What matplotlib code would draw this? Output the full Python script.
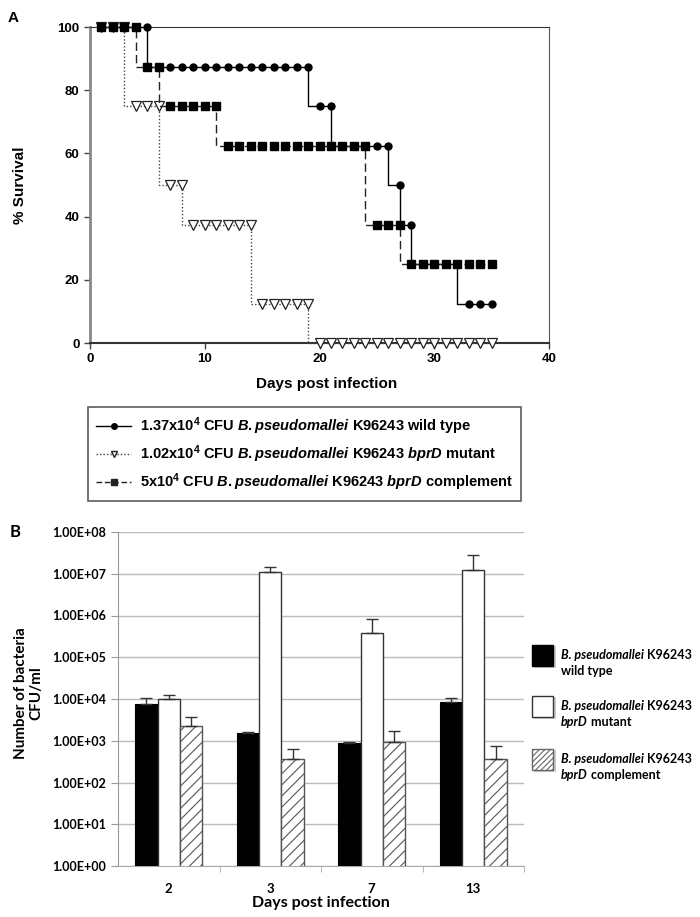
import matplotlib
matplotlib.use('Agg')
from matplotlib import pyplot as plt
from matplotlib.patches import Rectangle
from matplotlib.lines import Line2D
import numpy as np

plt.rcParams['font.family'] = ['Liberation Sans', 'DejaVu Sans']
plt.rcParams['mathtext.fontset'] = 'custom'
plt.rcParams['mathtext.rm'] = 'Liberation Sans:bold'
plt.rcParams['mathtext.it'] = 'Liberation Sans:italic:bold'
plt.rcParams['mathtext.bf'] = 'Liberation Sans:bold'
plt.rcParams['mathtext.default'] = 'regular'
plt.rcParams['hatch.linewidth'] = 0.8

# panel A: survival per day
days = np.arange(1, 36)
wild_surv = [100]*5 + [87.5]*14 + [75]*2 + [62.5]*5 + [50] + [37.5] + [25]*4 + [12.5]*3
mutant_surv = [100]*3 + [75]*3 + [50]*2 + [37.5]*6 + [12.5]*5 + [0]*16
comp_surv = [100]*4 + [87.5]*2 + [75]*5 + [62.5]*13 + [37.5]*3 + [25]*8

# panel B: CFU/ml
b_days = ['2', '3', '7', '13']
wild_cfu = [7.5e3, 1.5e3, 9.0e2, 8.3e3]
wild_err = [3.0e3, 1.0e2, 5.0e1, 2.0e3]
mutant_cfu = [1.0e4, 1.08e7, 3.8e5, 1.22e7]
mutant_err = [2.5e3, 4.0e6, 4.3e5, 1.55e7]
comp_cfu = [2.3e3, 3.7e2, 9.5e2, 3.7e2]
comp_err = [1.5e3, 2.8e2, 7.5e2, 3.8e2]

fig = plt.figure(figsize=(7, 9.17), dpi=100)

# ---------------- panel A
ax = fig.add_axes([90/700, 1-343/917, 459/700, 316/917])
ax.plot(days, wild_surv, drawstyle='steps-pre', color='black', lw=1.0,
        marker='o', ms=5, mfc='black', mec='black', clip_on=False, zorder=4)
ax.plot(days, mutant_surv, drawstyle='steps-pre', color='#444444', lw=1.0,
        ls=(0, (1, 1.5)), marker='v', ms=7, mfc='white', mec='#222222',
        mew=0.9, clip_on=False, zorder=3)
ax.plot(days, comp_surv, drawstyle='steps-pre', color='#222222', lw=1.0,
        ls=(0, (6, 3)), marker='s', ms=6, mfc='black', mec='black',
        clip_on=False, zorder=5)
ax.set_xlim(0, 40)
ax.set_ylim(0, 100)
ax.set_xticks([0, 10, 20, 30, 40])
ax.set_yticks([0, 20, 40, 60, 80, 100])
ax.tick_params(labelsize=9.5, length=4, width=1, color='#444444')
for lab in ax.get_xticklabels() + ax.get_yticklabels():
    lab.set_fontweight('bold')
ax.spines['left'].set_color('#888888')
ax.spines['left'].set_linewidth(2)
ax.spines['bottom'].set_color('#333333')
ax.spines['bottom'].set_linewidth(1.5)
ax.spines['top'].set_color('#333333')
ax.spines['right'].set_color('#555555')
ax.set_ylabel('% Survival', fontsize=11, fontweight='bold', labelpad=22)
fig.text(327/700, 1-384/917, 'Days post infection', fontsize=11, fontweight='bold',
         ha='center', va='center')
fig.text(8/700, 1-18/917, 'A', fontsize=11, fontweight='bold', va='center')

labels = [r'1.37x10$^4$ CFU $\mathit{B.pseudomallei}$ K96243 wild type',
          r'1.02x10$^4$ CFU $\mathit{B.pseudomallei}$ K96243 $\mathit{bprD}$ mutant',
          r'5x10$^4$ CFU $\mathit{B.pseudomallei}$ K96243 $\mathit{bprD}$ complement']
h1 = Line2D([], [], color='black', lw=1, marker='o', ms=4)
h2 = Line2D([], [], color='#444444', lw=1, ls=(0, (1, 1.5)), marker='v', ms=5,
            mfc='white', mec='#222222')
h3 = Line2D([], [], color='#222222', lw=1, ls=(0, (4, 2)), marker='s', ms=4.5)
leg = fig.legend([h1, h2, h3], labels, loc='upper left',
                 bbox_to_anchor=(88/700, 1-407/917), frameon=True, fancybox=False,
                 edgecolor='#333333', prop={'weight': 'bold', 'size': 10.5},
                 handlelength=2.4, handletextpad=0.6, labelspacing=0.45,
                 borderpad=0.55, borderaxespad=0)
leg.get_frame().set_linewidth(1.2)

# ---------------- panel B
bfont = 'Lato'
bx = fig.add_axes([118/700, 1-866/917, 406/700, 334/917])
x = np.arange(len(b_days))
w = 0.22
bx.bar(x - w, wild_cfu, w, color='black', edgecolor='black', lw=0.8, zorder=3)
bx.bar(x, mutant_cfu, w, color='white', edgecolor='#333333', lw=1.0, zorder=3)
bx.bar(x + w, comp_cfu, w, color='white', edgecolor='#555555', hatch='///',
       lw=1.0, zorder=3)
ekw = dict(fmt='none', ecolor='#333333', elinewidth=1.0, capsize=4, capthick=1.0, zorder=4)
bx.errorbar(x - w, wild_cfu, yerr=[np.zeros(4), wild_err], **ekw)
bx.errorbar(x, mutant_cfu, yerr=[np.zeros(4), mutant_err], **ekw)
bx.errorbar(x + w, comp_cfu, yerr=[np.zeros(4), comp_err], **ekw)
bx.set_yscale('log')
bx.set_ylim(1, 1e8)
bx.set_xlim(-0.5, 3.5)
yt = [10.0**k for k in range(9)]
bx.set_yticks(yt)
bx.set_yticklabels(['%.2E' % v for v in yt], fontfamily=bfont, fontweight='bold', fontsize=9)
bx.minorticks_off()
bx.set_xticks(x)
bx.set_xticklabels(b_days, fontfamily=bfont, fontweight='bold', fontsize=9.5)
bx.set_xticks([0.5, 1.5, 2.5, 3.5], minor=True)
bx.tick_params(axis='x', which='major', length=0, pad=12)
bx.tick_params(axis='x', which='minor', length=4, color='#aaaaaa')
bx.tick_params(axis='y', length=5, color='#999999')
bx.yaxis.grid(True, color='#bbbbbb', lw=1.0, zorder=0)
bx.set_axisbelow(True)
for s in ['top', 'right']:
    bx.spines[s].set_visible(False)
bx.spines['left'].set_color('#999999')
bx.spines['bottom'].set_color('#aaaaaa')
bx.set_ylabel('Number of bacteria\nCFU/ml', fontfamily=bfont, fontweight='bold',
              fontsize=11, linespacing=1.05)
bx.yaxis.set_label_coords(-0.185, 0.518)
bx.set_xlabel('Days post infection', fontfamily=bfont, fontweight='bold', fontsize=11.5,
              labelpad=1)
fig.text(10/700, 1-532/917, 'B', fontfamily=bfont, fontweight='bold', fontsize=12, va='center')

# legend panel B, drawn by hand
sw = [(645, dict(facecolor='black', edgecolor='black')),
      (696, dict(facecolor='white', edgecolor='#333333')),
      (749, dict(facecolor='white', edgecolor='#666666', hatch='//////'))]
texts = [('wild type', None), ('mutant', 'bprD'), ('complement', 'bprD')]
lfs = 9
for (ytop, kw), (second, ital) in zip(sw, texts):
    fig.patches.append(Rectangle((534/700, 1-(ytop+23)/917), 22/700, 22/917,
                                 transform=fig.transFigure, facecolor='#cccccc',
                                 edgecolor='none', zorder=1))
    fig.patches.append(Rectangle((532/700, 1-(ytop+21)/917), 21/700, 21/917,
                                 transform=fig.transFigure, lw=1.0, zorder=2, **kw))
    t = fig.text(561/700, 1-(ytop+14)/917, 'B. pseudomallei', fontfamily=bfont,
                 fontweight='bold', fontstyle='italic', fontsize=lfs, va='baseline')
    bx.annotate(' K96243', xy=(1, 0), xycoords=t, ha='left', va='bottom',
                fontfamily=bfont, fontweight='bold', fontsize=lfs, annotation_clip=False)
    y2 = 1-(ytop+30)/917
    if ital:
        t2 = fig.text(561/700, y2, ital, fontfamily=bfont, fontweight='bold',
                      fontstyle='italic', fontsize=lfs, va='baseline')
        bx.annotate(' ' + second, xy=(1, 0), xycoords=t2, ha='left', va='bottom',
                    fontfamily=bfont, fontweight='bold', fontsize=lfs, annotation_clip=False)
    else:
        fig.text(561/700, y2, second, fontfamily=bfont, fontweight='bold',
                 fontsize=lfs, va='baseline')

fig.savefig('out.png', dpi=100)
